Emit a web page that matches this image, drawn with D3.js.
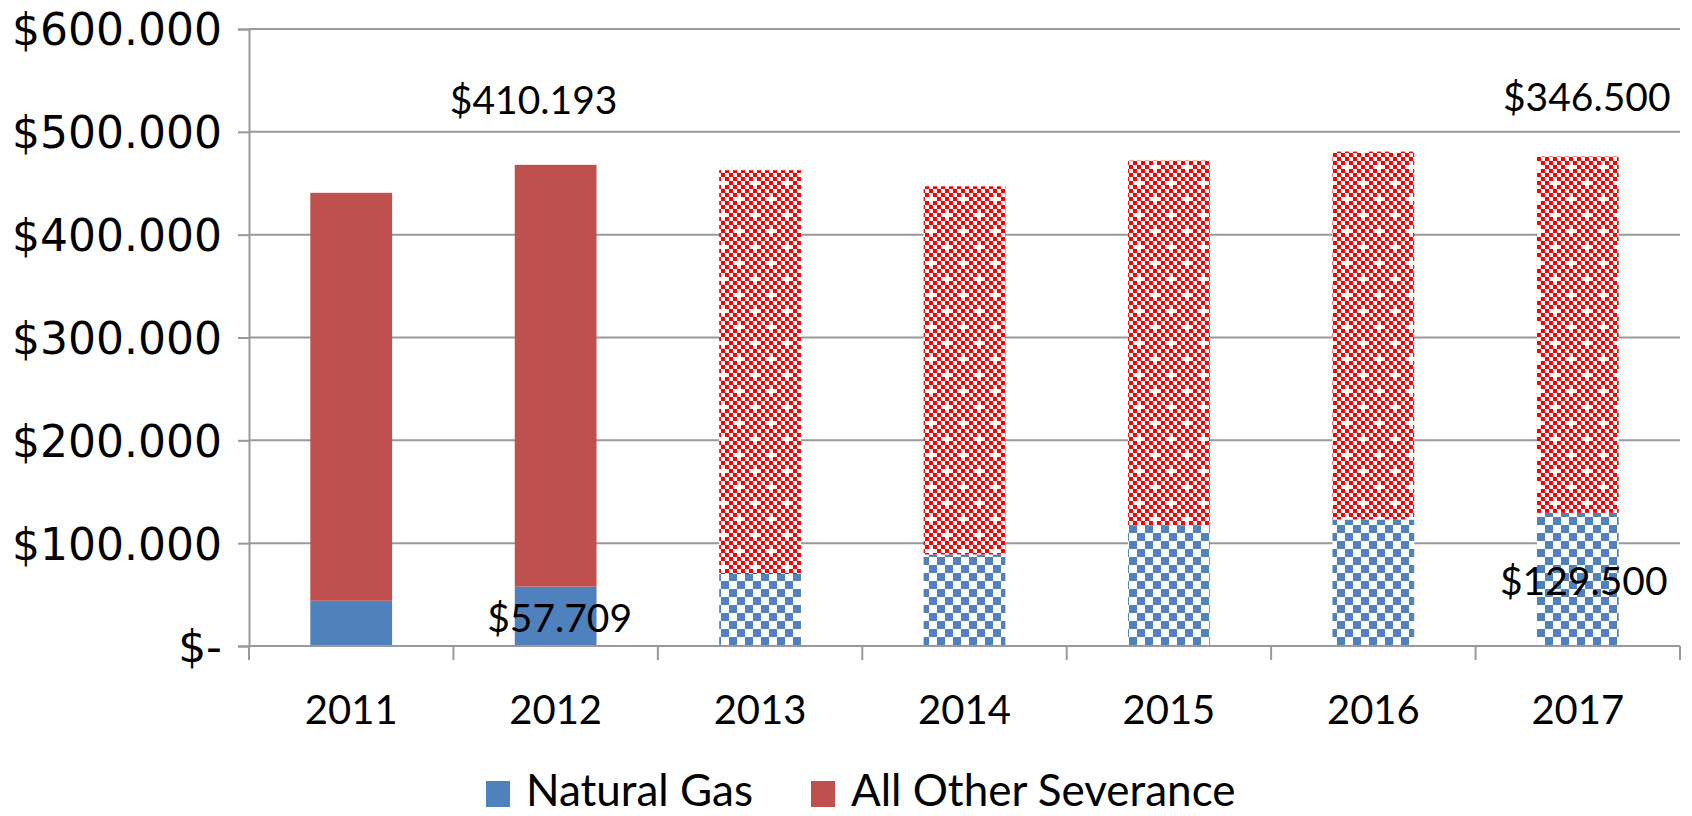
<!DOCTYPE html>
<html>
<head>
<meta charset="utf-8">
<script src="https://cdn.jsdelivr.net/npm/d3@7"></script>
<style>
  body { margin: 0; background: #fff; }
  svg { display: block; }
</style>
</head>
<body>
<svg id="chart"></svg>
<script>
// data
const years = ['2011', '2012', '2013', '2014', '2015', '2016', '2017'];
const naturalGas = [44, 57.709, 70, 89, 117.5, 123, 129.5];
const allOther = [396.7, 410.193, 392.7, 358, 354.5, 357.8, 346.5];
const actualYears = ['2011', '2012'];   // solid fill; the rest are hatched
const yTicks = [0, 100, 200, 300, 400, 500, 600];
const seriesNames = ['Natural Gas', 'All Other Severance'];
const labelYears = ['2012', '2012', '2017', '2017'];
const labelSeries = ['other', 'gas', 'other', 'gas'];
const labelTexts = ['$410.193', '$57.709', '$346.500', '$129.500'];

const width = 1692, height = 816;
const margin = { top: 29, right: 12, bottom: 170, left: 249 };
const innerW = width - margin.left - margin.right;
const innerH = height - margin.top - margin.bottom;

const blue = '#4F81BD', red = '#C0504D', hatchRed = '#FF0000', grid = '#999999';

const svg = d3.select('#chart').attr('width', width).attr('height', height);
const defs = svg.append('defs');

// blue: big checkerboard
const pg = defs.append('pattern').attr('id', 'gasHatch')
  .attr('patternUnits', 'userSpaceOnUse').attr('width', 16).attr('height', 16);
pg.append('rect').attr('width', 16).attr('height', 16).attr('fill', '#fff');
pg.append('rect').attr('width', 8).attr('height', 8).attr('fill', blue);
pg.append('rect').attr('x', 8).attr('y', 8).attr('width', 8).attr('height', 8).attr('fill', blue);

// red: small checkerboard with a red cell knocked out now and then (white crosses)
const po = defs.append('pattern').attr('id', 'otherHatch')
  .attr('patternUnits', 'userSpaceOnUse').attr('width', 32).attr('height', 32);
po.append('rect').attr('width', 32).attr('height', 32).attr('fill', '#fff');
for (let r = 0; r < 8; r++) {
  for (let c = 0; c < 8; c++) {
    if ((r + c) % 2 !== 0) continue;
    if ((r === 2 && c === 2) || (r === 6 && c === 6)) continue;
    po.append('rect').attr('x', c * 4).attr('y', r * 4)
      .attr('width', 4).attr('height', 4).attr('fill', hatchRed);
  }
}

const chart = svg.append('g').attr('transform', `translate(${margin.left},${margin.top})`);

const x = d3.scaleBand().domain(years).range([0, innerW]).paddingInner(0.6).paddingOuter(0.3);
const y = d3.scaleLinear().domain([0, 600]).range([innerH, 0]);

// gridlines
chart.append('g').selectAll('line').data(yTicks.filter(d => d > 0)).join('line')
  .attr('x1', 0).attr('x2', innerW)
  .attr('y1', d => y(d)).attr('y2', d => y(d))
  .attr('stroke', grid).attr('stroke-width', 2);

// stacked bars
const rows = years.map((yr, i) => ({ year: yr, gas: naturalGas[i], other: allOther[i] }));
const stacked = d3.stack().keys(['gas', 'other'])(rows);

chart.append('g').selectAll('g').data(stacked).join('g')
  .selectAll('rect').data(s => s.map(d => ({ key: s.key, d }))).join('rect')
  .attr('x', o => x(o.d.data.year))
  .attr('width', x.bandwidth())
  .attr('y', o => y(o.d[1]))
  .attr('height', o => y(o.d[0]) - y(o.d[1]))
  .attr('fill', o => {
    const solid = actualYears.includes(o.d.data.year);
    if (o.key === 'gas') return solid ? blue : 'url(#gasHatch)';
    return solid ? red : 'url(#otherHatch)';
  });

// y axis
const yAxis = d3.axisLeft(y).tickValues(yTicks).tickSize(11).tickPadding(16)
  .tickFormat(d => d === 0 ? '$- ' : `$${d}.000`);
const yg = chart.append('g').call(yAxis);
yg.select('.domain').attr('stroke', grid).attr('stroke-width', 2);
yg.selectAll('.tick line').attr('stroke', grid).attr('stroke-width', 2);
yg.selectAll('.tick text').attr('fill', '#000')
  .style('font-family', '"DejaVu Sans", Verdana, sans-serif').style('font-size', '44px')
  .attr('dy', '0.36em');

// x axis: ticks at category boundaries
const xg = chart.append('g').attr('transform', `translate(0,${innerH})`);
xg.append('line').attr('x1', 0).attr('x2', innerW).attr('stroke', grid).attr('stroke-width', 2);
const step = x.step();
xg.selectAll('line.bound').data(d3.range(years.length + 1)).join('line')
  .attr('class', 'bound')
  .attr('x1', i => i * step).attr('x2', i => i * step)
  .attr('y1', 0).attr('y2', 14)
  .attr('stroke', grid).attr('stroke-width', 2);
xg.selectAll('text').data(years).join('text')
  .attr('x', d => x(d) + x.bandwidth() / 2)
  .attr('y', 78)
  .attr('text-anchor', 'middle')
  .style('font-family', 'Lato, "Open Sans", sans-serif').style('font-size', '40px')
  .text(d => d);

// data labels (moved by hand in the original)
const labelShift = { '2012other': [-22, -51], '2012gas': [4, 45], '2017other': [9, -46], '2017gas': [6, 82] };
labelTexts.forEach((t, i) => {
  const yr = labelYears[i], s = labelSeries[i];
  const row = rows.find(r => r.year === yr);
  const top = s === 'gas' ? row.gas : row.gas + row.other;
  const sh = labelShift[yr + s];
  chart.append('text')
    .attr('x', x(yr) + x.bandwidth() / 2 + sh[0])
    .attr('y', y(top) + sh[1])
    .attr('text-anchor', 'middle')
    .style('font-family', 'Lato, "Open Sans", sans-serif').style('font-size', '39px')
    .text(t);
});

// legend
const legend = svg.append('g').attr('transform', 'translate(486,806)');
const legendX = [0, 325];
seriesNames.forEach((name, i) => {
  const g = legend.append('g').attr('transform', `translate(${legendX[i]},0)`);
  g.append('rect').attr('x', 0).attr('y', -25).attr('width', 24).attr('height', 26)
    .attr('fill', i === 0 ? blue : red);
  g.append('text').attr('x', 40).attr('y', 0)
    .style('font-family', 'Lato, "Open Sans", sans-serif').style('font-size', '44px')
    .text(name);
});
</script>
</body>
</html>
